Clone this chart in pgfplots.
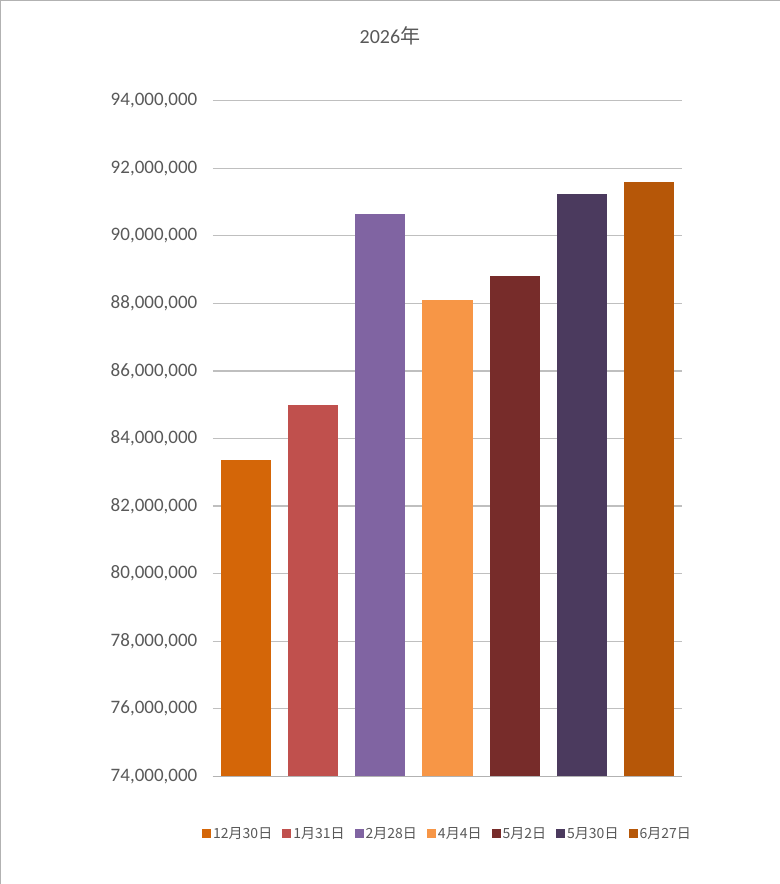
\documentclass[border=0pt]{standalone}
\usepackage{pgfplots}
\pgfplotsset{compat=1.18}
\usepackage{fontspec}
\setmainfont{Carlito}
\newfontfamily\cjk{Noto Sans CJK JP}
\definecolor{c1}{HTML}{D46608}
\definecolor{c2}{HTML}{C0504D}
\definecolor{c3}{HTML}{8064A2}
\definecolor{c4}{HTML}{F79646}
\definecolor{c5}{HTML}{772C2A}
\definecolor{c6}{HTML}{4B3A5E}
\definecolor{c7}{HTML}{B65708}
\definecolor{grid}{HTML}{4F81BD}
\definecolor{txt}{HTML}{595959}
\begin{document}
\begin{tikzpicture}[x=1pt,y=1pt]
\draw[draw=gray!60,fill=white] (0.5,0.5) rectangle (779.5,883.5);
\node[text=txt,font=\fontsize{20}{24}\selectfont] at (390,848) {2026{\cjk 年}};
\begin{axis}[at={(213pt,108pt)},anchor=south west,scale only axis,width=469pt,height=675pt,
 xmin=-0.5,xmax=6.5,ymin=74000000,ymax=94000000,
 ytick distance=2000000,
 /pgf/number format/assume math mode=true,
 scaled y ticks=false,
 yticklabel style={text=txt,font=\fontsize{19}{22}\selectfont,xshift=-12pt,/pgf/number format/.cd,fixed,1000 sep={,}},
 xtick=\empty, major tick length=0pt,
 ymajorgrids,grid style={grid,line width=1.2pt},
 axis x line=bottom,axis y line=left,
 y axis line style={draw=none},
 x axis line style={draw=gray!60,line width=1pt,-},
 ybar,bar width=50pt,bar shift=0pt,
 every axis plot/.append style={draw=none},
 legend style={at={(0.5,-0.085)},anchor=center,draw=none,legend columns=7,
  font=\cjk\fontsize{14}{16}\selectfont,text=txt,
  /tikz/every even column/.append style={column sep=8pt}},
 legend image code/.code={\fill[#1] (0pt,-4.5pt) rectangle (9pt,4.5pt);},
 clip=false]
\addplot[fill=c1] coordinates {(0,83360000)}; \addlegendentry{12月30日}
\addplot[fill=c2] coordinates {(1,85000000)}; \addlegendentry{1月31日}
\addplot[fill=c3] coordinates {(2,90650000)}; \addlegendentry{2月28日}
\addplot[fill=c4] coordinates {(3,88100000)}; \addlegendentry{4月4日}
\addplot[fill=c5] coordinates {(4,88800000)}; \addlegendentry{5月2日}
\addplot[fill=c6] coordinates {(5,91250000)}; \addlegendentry{5月30日}
\addplot[fill=c7] coordinates {(6,91600000)}; \addlegendentry{6月27日}
\end{axis}
\end{tikzpicture}
\end{document}
